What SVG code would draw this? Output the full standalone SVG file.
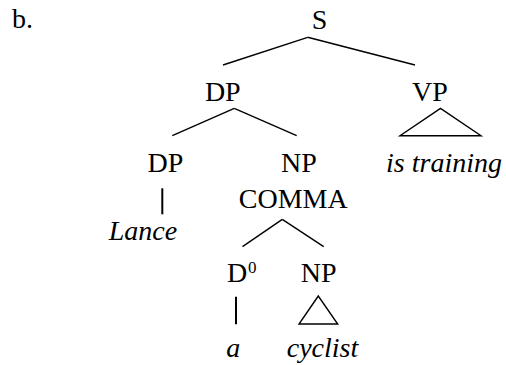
<svg xmlns="http://www.w3.org/2000/svg" width="506" height="365" viewBox="0 0 506 365">
  <style>
    text { font-family: 'Liberation Serif', Tinos, 'Times New Roman', Times, 'Nimbus Roman', FreeSerif, 'Noto Serif', 'DejaVu Serif', serif; font-size: 28px; fill: #000; text-anchor: middle; }
    .it { font-style: italic; }
    .sup { font-size: 17px; text-anchor: start; }
    .edge { stroke: #000; stroke-width: 1.4; fill: none; stroke-linecap: butt; }
    .bar { stroke: #000; stroke-width: 2; fill: none; }
    .tri { stroke: #000; stroke-width: 1.4; fill: none; stroke-linejoin: miter; }
  </style>
  <rect width="506" height="365" fill="#fff"/>

  <!-- example number -->
  <text x="12" y="28" style="text-anchor:start">b.</text>

  <!-- branches -->
  <g id="connectors">
    <line class="edge" x1="307.7" y1="37.3" x2="223" y2="65"/>
    <line class="edge" x1="307.7" y1="37.3" x2="415" y2="65"/>
    <line class="edge" x1="234.3" y1="108.3" x2="172.3" y2="135.7"/>
    <line class="edge" x1="234.3" y1="108.3" x2="296.7" y2="135.7"/>
    <polygon class="tri" points="440.5,108.3 400,135.7 481,135.7"/>
    <line class="bar" x1="162.3" y1="188.3" x2="162.3" y2="214.3"/>
    <line class="edge" x1="282.3" y1="219.3" x2="242.5" y2="246.7"/>
    <line class="edge" x1="282.3" y1="219.3" x2="323.7" y2="246.7"/>
    <line class="bar" x1="236" y1="296.7" x2="236" y2="324.3"/>
    <polygon class="tri" points="318.3,296 299,324 337.7,324"/>
  </g>

  <g id="s"><text x="319.5" y="29">S</text></g>
  <g id="dp"><text x="222.8" y="101">DP</text></g>
  <g id="vp"><text x="430" y="101">VP</text></g>
  <g id="vp-yield"><text class="it" x="444" y="172">is training</text></g>
  <g id="dp-lance"><text x="165.5" y="172">DP</text></g>
  <g id="lance"><text class="it" x="143" y="240">Lance</text></g>
  <g id="np-comma">
    <text x="299" y="172">NP</text>
    <text x="293.3" y="208">COMMA</text>
  </g>
  <g id="d0">
    <text x="237" y="282">D</text>
    <text class="sup" x="248" y="273">0</text>
  </g>
  <g id="a"><text class="it" x="233.3" y="357">a</text></g>
  <g id="np"><text x="318.7" y="282">NP</text></g>
  <g id="cyclist"><text class="it" x="322.5" y="357">cyclist</text></g>
</svg>
